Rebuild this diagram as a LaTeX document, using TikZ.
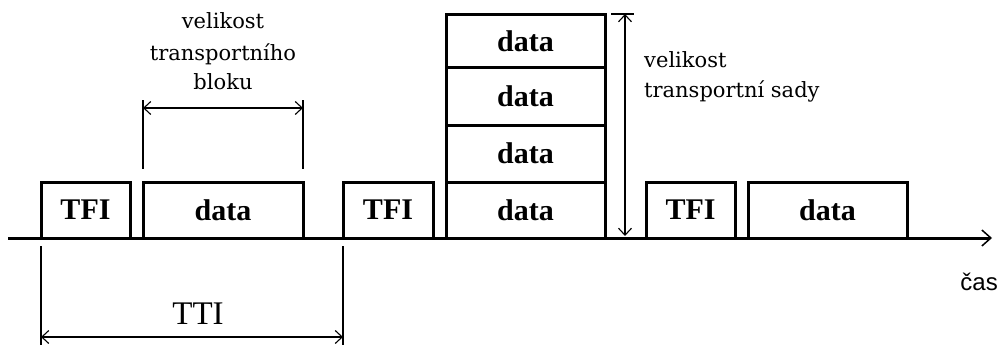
\documentclass[tikz,border=0pt]{standalone}
\usepackage{fontspec}
\setmainfont{Liberation Serif}
\newfontfamily\lblfont{DejaVu Serif}
\newfontfamily\sansf{Liberation Sans}
\usetikzlibrary{arrows.meta}
\begin{document}
\begin{tikzpicture}[x=1pt,y=-1pt,
  box/.style={draw,line width=3pt,rectangle,inner sep=0pt,font=\fontsize{30}{30}\selectfont\bfseries},
  dim/.style={line width=1.3pt,>={Straight Barb[length=7pt,width=13pt,line width=1.1pt]}},
  lbl/.style={anchor=base,inner sep=0pt,font=\fontsize{21}{21}\lblfont}]
\useasboundingbox (0,0) rectangle (999,345);
% axis
\coordinate (axL) at (8,238);
\coordinate (axR) at (992,238);
\draw[line width=3pt,-{Straight Barb[length=9pt,width=16pt,line width=1.5pt]}] (axL) -- (axR);
% boxes
\node[box,minimum width=89pt,minimum height=56pt] (tfi1) at (85.5,210) {TFI};
\node[box,minimum width=160pt,minimum height=56pt] (data1) at (223,210) {data};
\node[box,minimum width=90pt,minimum height=56pt] (tfi2) at (388,210) {TFI};
\node[box,minimum width=159pt,minimum height=56pt] (s1) at (525.5,210) {data};
\node[box,minimum width=159pt,minimum height=57pt] (s2) at (525.5,153.5) {data};
\node[box,minimum width=159pt,minimum height=57pt] (s3) at (525.5,96.5) {data};
\node[box,minimum width=159pt,minimum height=53pt] (s4) at (525.5,41.5) {data};
\node[box,minimum width=89pt,minimum height=56pt] (tfi3) at (690.5,210) {TFI};
\node[box,minimum width=159pt,minimum height=56pt] (data3) at (827.5,210) {data};
% transport block size
\coordinate (b1) at (143,100);
\coordinate (b1e) at (143,169);
\coordinate (b2) at (303,100);
\coordinate (b2e) at (303,169);
\coordinate (ba1) at (143,108);
\coordinate (ba2) at (303,108);
\draw[dim] (b1) -- (b1e);
\draw[dim] (b2) -- (b2e);
\draw[dim,<->] (ba1) -- (ba2);
\node[lbl] (l1) at (223,29) {velikost};
\node[lbl] (l2) at (223,60) {transportního};
\node[lbl] (l3) at (223,89) {bloku};
% transport set size
\coordinate (st1) at (611,14);
\coordinate (st2) at (634,14);
\coordinate (sa1) at (625,14);
\coordinate (sa2) at (625,236);
\draw[dim] (st1) -- (st2);
\draw[dim,<->] (sa1) -- (sa2);
\node[lbl,anchor=base west] (r1) at (644,67) {velikost};
\node[lbl,anchor=base west] (r2) at (644,97) {transportní sady};
% TTI
\coordinate (t1) at (41,246);
\coordinate (t1e) at (41,345);
\coordinate (t2) at (343,246);
\coordinate (t2e) at (343,345);
\coordinate (ta1) at (41,337);
\coordinate (ta2) at (343,337);
\draw[dim] (t1) -- (t1e);
\draw[dim] (t2) -- (t2e);
\draw[dim,<->] (ta1) -- (ta2);
\node[anchor=base,inner sep=0pt,font=\fontsize{33}{33}\selectfont] (tti) at (198,324) {TTI};
% time
\node[anchor=base east,inner sep=0pt,font=\fontsize{24}{24}\sansf] (cas) at (998,290) {čas};
\end{tikzpicture}
\end{document}
